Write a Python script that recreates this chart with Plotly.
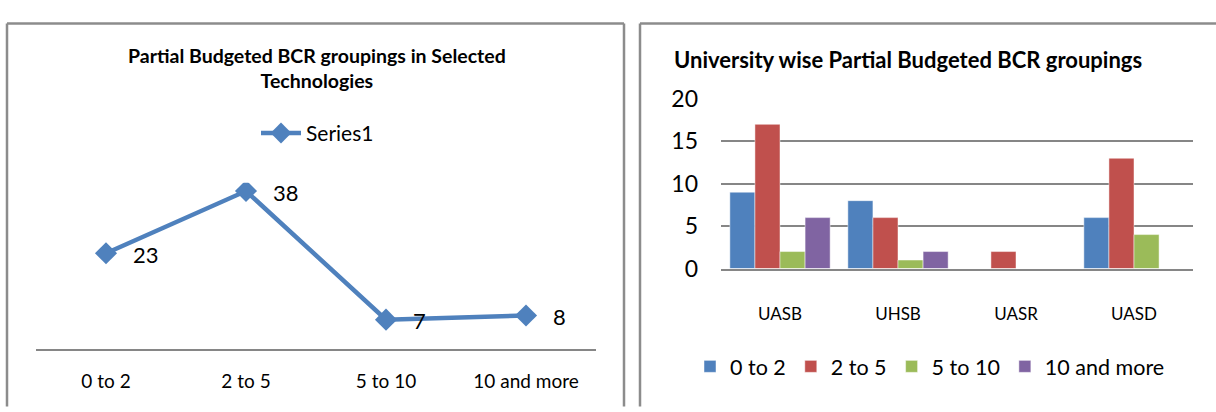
import plotly.graph_objects as go

W, H = 1216, 412
FONT = "Lato"

# Left chart data
line_cats = ["0 to 2", "2 to 5", "5 to 10", "10 and more"]
line_vals = [23, 38, 7, 8]

# Right chart data
universities = ["UASB", "UHSB", "UASR", "UASD"]
grp_names = ["0 to 2", "2 to 5", "5 to 10", "10 and more"]
grp_0_2 = [9, 8, 0, 6]
grp_2_5 = [17, 6, 2, 13]
grp_5_10 = [2, 1, 0, 4]
grp_10_more = [6, 2, 0, 0]
grp_colors = ["#4F81BD", "#C0504D", "#9BBB59", "#8064A2"]


def px(x):
    return x / W


def py(y):
    return 1 - y / H


fig = go.Figure()

fig.add_trace(go.Scatter(
    x=line_cats, y=line_vals, mode="lines+markers", name="Series1",
    line=dict(color="#4F81BD", width=4.5),
    marker=dict(symbol="diamond", size=17, color="#4F81BD"),
    xaxis="x", yaxis="y", legend="legend", showlegend=True,
))

for name, vals, col in zip(grp_names, [grp_0_2, grp_2_5, grp_5_10, grp_10_more], grp_colors):
    fig.add_trace(go.Bar(
        x=universities, y=vals, name=name,
        marker=dict(color=col, line=dict(color="rgba(255,255,255,0.6)", width=0.8)),
        xaxis="x2", yaxis="y2", legend="legend2",
    ))

annotations = []
for c, v in zip(line_cats, line_vals):
    annotations.append(dict(
        x=c, y=v, xref="x", yref="y", text=str(v), showarrow=False,
        xanchor="left", yanchor="middle", xshift=25, yshift=-1,
        font=dict(family=FONT, size=22, color="#000000"),
    ))

annotations.append(dict(
    x=px(317), y=py(57), xref="paper", yref="paper",
    text="<b>Partial Budgeted BCR groupings in Selected<br>Technologies</b>",
    showarrow=False, xanchor="center", yanchor="middle",
    font=dict(family=FONT, size=19.5, color="#000000"),
))
annotations.append(dict(
    x=px(672), y=py(48), xref="paper", yref="paper",
    text="<b>University wise Partial Budgeted BCR groupings</b>",
    showarrow=False, xanchor="left", yanchor="middle",
    font=dict(family=FONT, size=22, color="#000000"),
))

border = dict(color="#8C8C8C", width=2.5)
shapes = [
    dict(type="line", xref="paper", yref="paper", x0=px(7), x1=px(624), y0=py(9), y1=py(9), line=border),
    dict(type="line", xref="paper", yref="paper", x0=px(7), x1=px(7), y0=py(9), y1=py(420), line=border),
    dict(type="line", xref="paper", yref="paper", x0=px(624), x1=px(624), y0=py(9), y1=py(420), line=border),
    dict(type="line", xref="paper", yref="paper", x0=px(640), x1=px(1220), y0=py(9), y1=py(9), line=border),
    dict(type="line", xref="paper", yref="paper", x0=px(640), x1=px(640), y0=py(9), y1=py(420), line=border),
]

fig.update_layout(
    width=W, height=H, margin=dict(l=0, r=0, t=0, b=0),
    paper_bgcolor="white", plot_bgcolor="white",
    font=dict(family=FONT, color="#000000"),
    barmode="group", bargap=0.15, bargroupgap=0,
    xaxis=dict(domain=[px(36), px(596)], type="category", range=[-0.5, 3.5],
               showline=True, linecolor="#868686", linewidth=1.5, showgrid=False,
               ticks="", tickfont=dict(family=FONT, size=19), ticklabelstandoff=15,
               fixedrange=True),
    yaxis=dict(domain=[py(358), py(180)], range=[0, 40], visible=False,
               showgrid=False, zeroline=False),
    xaxis2=dict(domain=[px(721), px(1193)], anchor="y2", type="category",
                showline=True, linecolor="#868686", linewidth=1.5, showgrid=False,
                ticks="", tickfont=dict(family=FONT, size=17), ticklabelstandoff=29),
    yaxis2=dict(domain=[py(272), py(90)], anchor="x2", range=[0, 20], dtick=5,
                showgrid=True, gridcolor="#868686", gridwidth=1.5, zeroline=False,
                showline=False, ticks="", tickfont=dict(family=FONT, size=23),
                ticklabelstandoff=22),
    legend=dict(x=px(256), y=py(127), xanchor="left", yanchor="middle",
                orientation="h", font=dict(family=FONT, size=21),
                bgcolor="rgba(0,0,0,0)", itemwidth=40),
    legend2=dict(x=px(690), y=py(377), xanchor="left", yanchor="middle",
                 orientation="h", font=dict(family=FONT, size=21.5),
                 bgcolor="rgba(0,0,0,0)", traceorder="normal"),
    annotations=annotations,
    shapes=shapes,
)

fig.write_html("out.html")
